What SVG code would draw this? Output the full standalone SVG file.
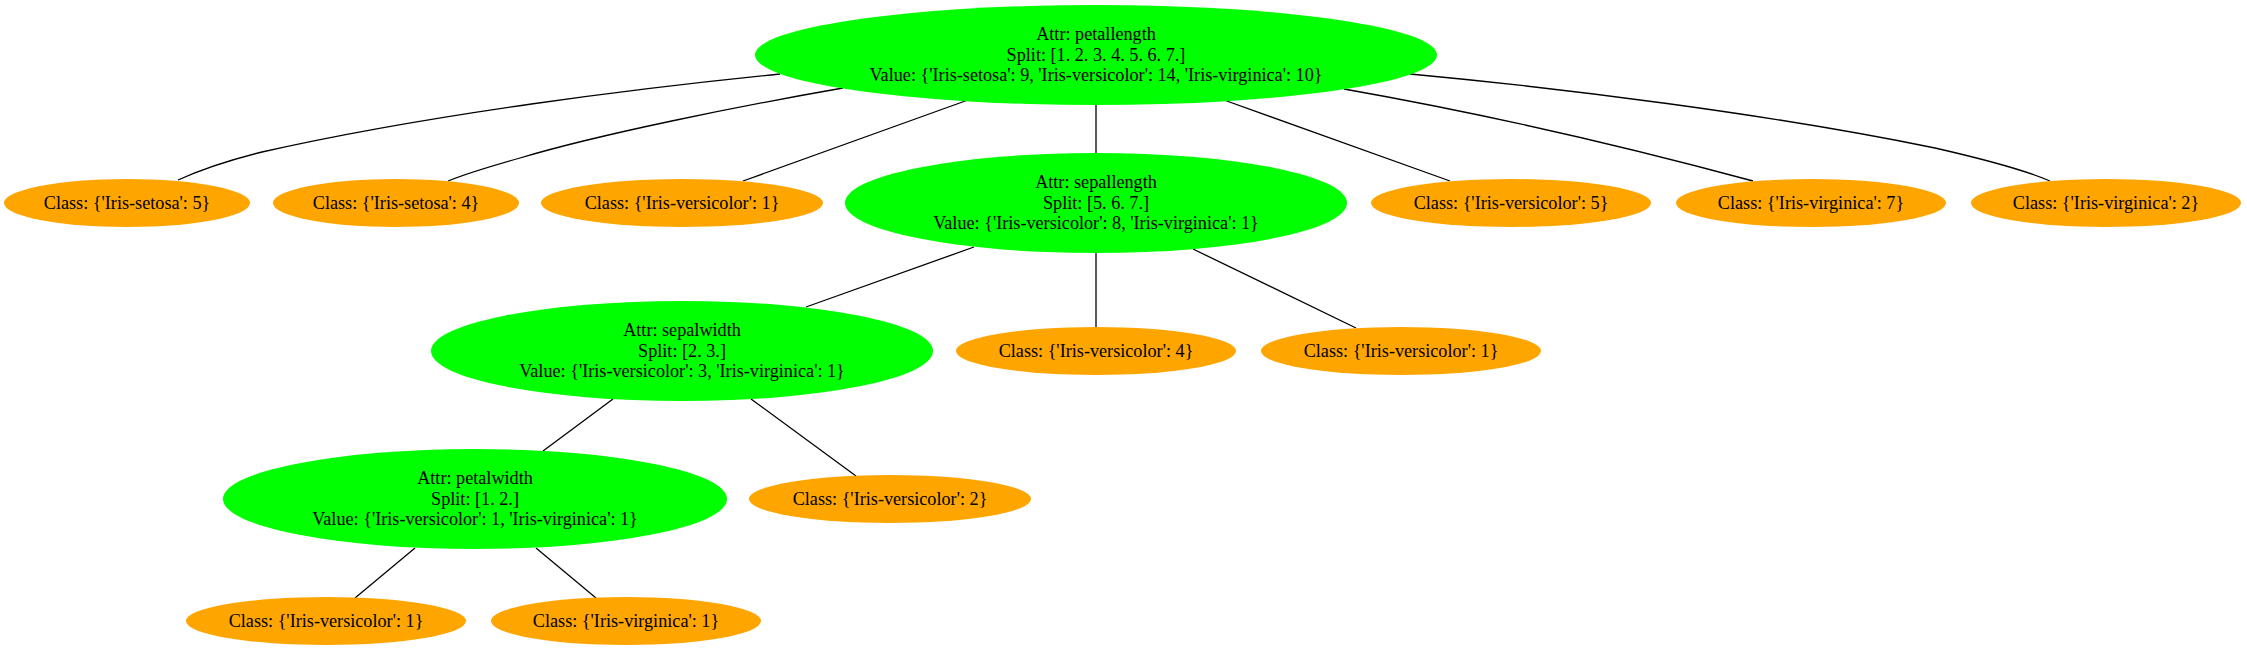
<svg xmlns="http://www.w3.org/2000/svg" width="2247" height="650" viewBox="0 0 2247 650">
<style>
.attr{fill:#00ff00;stroke:none}
.leaf{fill:#ffa500;stroke:none}
text{font-family:"Liberation Serif","Times New Roman",serif;font-size:18.2px;fill:#000;text-anchor:middle}
.edges path{fill:none;stroke:#000;stroke-width:1.3}
</style>
<rect width="2247" height="650" fill="#fff"/>
<g class="edges" id="edges">
<path d="M780,74 C640,88 430,114 262,152 C230,160 200,170 178,180"/>
<path d="M843,88 C740,106 600,134 520,158 C495,165 470,172 448,181"/>
<path d="M968,100 L743,181"/>
<path d="M1096,105 L1096,153"/>
<path d="M1224,100 L1450,181"/>
<path d="M1344,89 C1480,113 1620,145 1753,181"/>
<path d="M1410,74 C1560,88 1770,114 1935,148 C1970,156 2020,168 2050,181"/>
<path d="M974,247 L806,307"/>
<path d="M1096,253 L1096,327"/>
<path d="M1193,249 L1356,328"/>
<path d="M613,399 L543,451"/>
<path d="M751,399 L856,476"/>
<path d="M415,548 L355,598"/>
<path d="M536,548 L596,598"/>
</g>
<g id="n_petallength">
<ellipse class="attr" cx="1096" cy="55" rx="341" ry="50"/>
<text x="1096" y="40">Attr: petallength</text>
<text x="1096" y="60.5">Split: [1. 2. 3. 4. 5. 6. 7.]</text>
<text x="1096" y="81">Value: {'Iris-setosa': 9, 'Iris-versicolor': 14, 'Iris-virginica': 10}</text>
</g>
<g id="n_setosa5">
<ellipse class="leaf" cx="127" cy="203" rx="123" ry="24"/>
<text x="127" y="208.5">Class: {'Iris-setosa': 5}</text>
</g>
<g id="n_setosa4">
<ellipse class="leaf" cx="396" cy="203" rx="123" ry="24"/>
<text x="396" y="208.5">Class: {'Iris-setosa': 4}</text>
</g>
<g id="n_versicolor1a">
<ellipse class="leaf" cx="682" cy="203" rx="141" ry="24"/>
<text x="682" y="208.5">Class: {'Iris-versicolor': 1}</text>
</g>
<g id="n_sepallength">
<ellipse class="attr" cx="1096" cy="203" rx="251" ry="50"/>
<text x="1096" y="188">Attr: sepallength</text>
<text x="1096" y="208.5">Split: [5. 6. 7.]</text>
<text x="1096" y="229">Value: {'Iris-versicolor': 8, 'Iris-virginica': 1}</text>
</g>
<g id="n_versicolor5">
<ellipse class="leaf" cx="1511" cy="203" rx="140" ry="24"/>
<text x="1511" y="208.5">Class: {'Iris-versicolor': 5}</text>
</g>
<g id="n_virginica7">
<ellipse class="leaf" cx="1811" cy="203" rx="135" ry="24"/>
<text x="1811" y="208.5">Class: {'Iris-virginica': 7}</text>
</g>
<g id="n_virginica2">
<ellipse class="leaf" cx="2106" cy="203" rx="135" ry="24"/>
<text x="2106" y="208.5">Class: {'Iris-virginica': 2}</text>
</g>
<g id="n_sepalwidth">
<ellipse class="attr" cx="682" cy="351" rx="251" ry="50"/>
<text x="682" y="336">Attr: sepalwidth</text>
<text x="682" y="356.5">Split: [2. 3.]</text>
<text x="682" y="377">Value: {'Iris-versicolor': 3, 'Iris-virginica': 1}</text>
</g>
<g id="n_versicolor4">
<ellipse class="leaf" cx="1096" cy="351" rx="140" ry="24"/>
<text x="1096" y="356.5">Class: {'Iris-versicolor': 4}</text>
</g>
<g id="n_versicolor1b">
<ellipse class="leaf" cx="1401" cy="351" rx="140" ry="24"/>
<text x="1401" y="356.5">Class: {'Iris-versicolor': 1}</text>
</g>
<g id="n_petalwidth">
<ellipse class="attr" cx="475" cy="499" rx="252" ry="50"/>
<text x="475" y="484">Attr: petalwidth</text>
<text x="475" y="504.5">Split: [1. 2.]</text>
<text x="475" y="525">Value: {'Iris-versicolor': 1, 'Iris-virginica': 1}</text>
</g>
<g id="n_versicolor2">
<ellipse class="leaf" cx="890" cy="499" rx="141" ry="24"/>
<text x="890" y="504.5">Class: {'Iris-versicolor': 2}</text>
</g>
<g id="n_versicolor1c">
<ellipse class="leaf" cx="326" cy="621" rx="140" ry="24"/>
<text x="326" y="626.5">Class: {'Iris-versicolor': 1}</text>
</g>
<g id="n_virginica1">
<ellipse class="leaf" cx="626" cy="621" rx="135" ry="24"/>
<text x="626" y="626.5">Class: {'Iris-virginica': 1}</text>
</g>
</svg>
